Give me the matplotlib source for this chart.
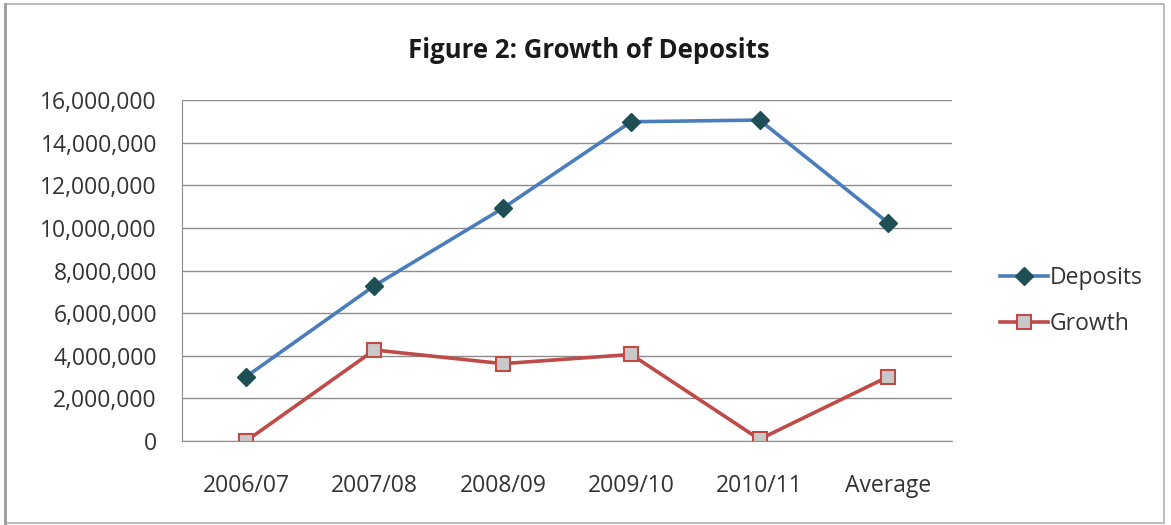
import matplotlib.pyplot as plt
from matplotlib.patches import Rectangle
from matplotlib.ticker import FuncFormatter

plt.rcParams['font.family'] = ['Open Sans', 'DejaVu Sans']

years = ["2006/07", "2007/08", "2008/09", "2009/10", "2010/11", "Average"]
deposits = [3020000, 7290000, 10920000, 14980000, 15060000, 10250000]
growth = [0, 4270000, 3630000, 4060000, 80000, 3010000]

fig = plt.figure(figsize=(11.71, 5.25), dpi=100)

# grey frame round the whole chart
fig.patches.append(Rectangle((0.004, 0.003), 0.99, 0.99, transform=fig.transFigure,
                             fill=False, edgecolor="#b0b0b0", linewidth=1.2))
fig.patches.append(Rectangle((0.003, 0.0), 0.003, 0.995, transform=fig.transFigure,
                             facecolor="#a0a0a0", edgecolor="none"))

ax = fig.add_axes([0.1554, 0.16, 0.6576, 0.6495])
x = list(range(len(years)))

ax.plot(x, deposits, color="#4a7ebb", linewidth=2.6, marker="D", markersize=9,
        markerfacecolor="#1d4f55", markeredgecolor="#1d4f55", label="Deposits")
ax.plot(x, growth, color="#be4b48", linewidth=2.6, marker="s", markersize=10.5,
        markerfacecolor="#c9c9c9", markeredgecolor="#be4b48", markeredgewidth=1.5,
        label="Growth")

ax.set_xlim(-0.5, len(years) - 0.5)
ax.set_ylim(0, 16000000)
ax.set_yticks(range(0, 16000001, 2000000))
ax.yaxis.set_major_formatter(FuncFormatter(lambda v, p: f"{int(v):,}"))
ax.set_xticks(x)
ax.set_xticklabels(years)
ax.grid(axis="y", color="#8c8c8c", linewidth=1)
ax.set_axisbelow(True)

for s in ["top", "right"]:
    ax.spines[s].set_visible(False)
for s in ["left", "bottom"]:
    ax.spines[s].set_color("#8c8c8c")
ax.tick_params(axis="y", length=0, pad=18, labelsize=16.5, labelcolor="#333333")
ax.tick_params(axis="x", length=0, pad=24, labelsize=16.5, labelcolor="#333333")

fig.text(0.503, 0.903, "Figure 2: Growth of Deposits", ha="center", va="center",
         fontsize=18.5, fontweight="bold", color="#1a1a1a")

ax.legend(loc="center left", bbox_to_anchor=(1.035, 0.41), frameon=False,
          fontsize=16.5, handlelength=2.1, handletextpad=0.1, labelspacing=0.95,
          labelcolor="#333333")

fig.savefig("out.png", dpi=100, facecolor="white")
